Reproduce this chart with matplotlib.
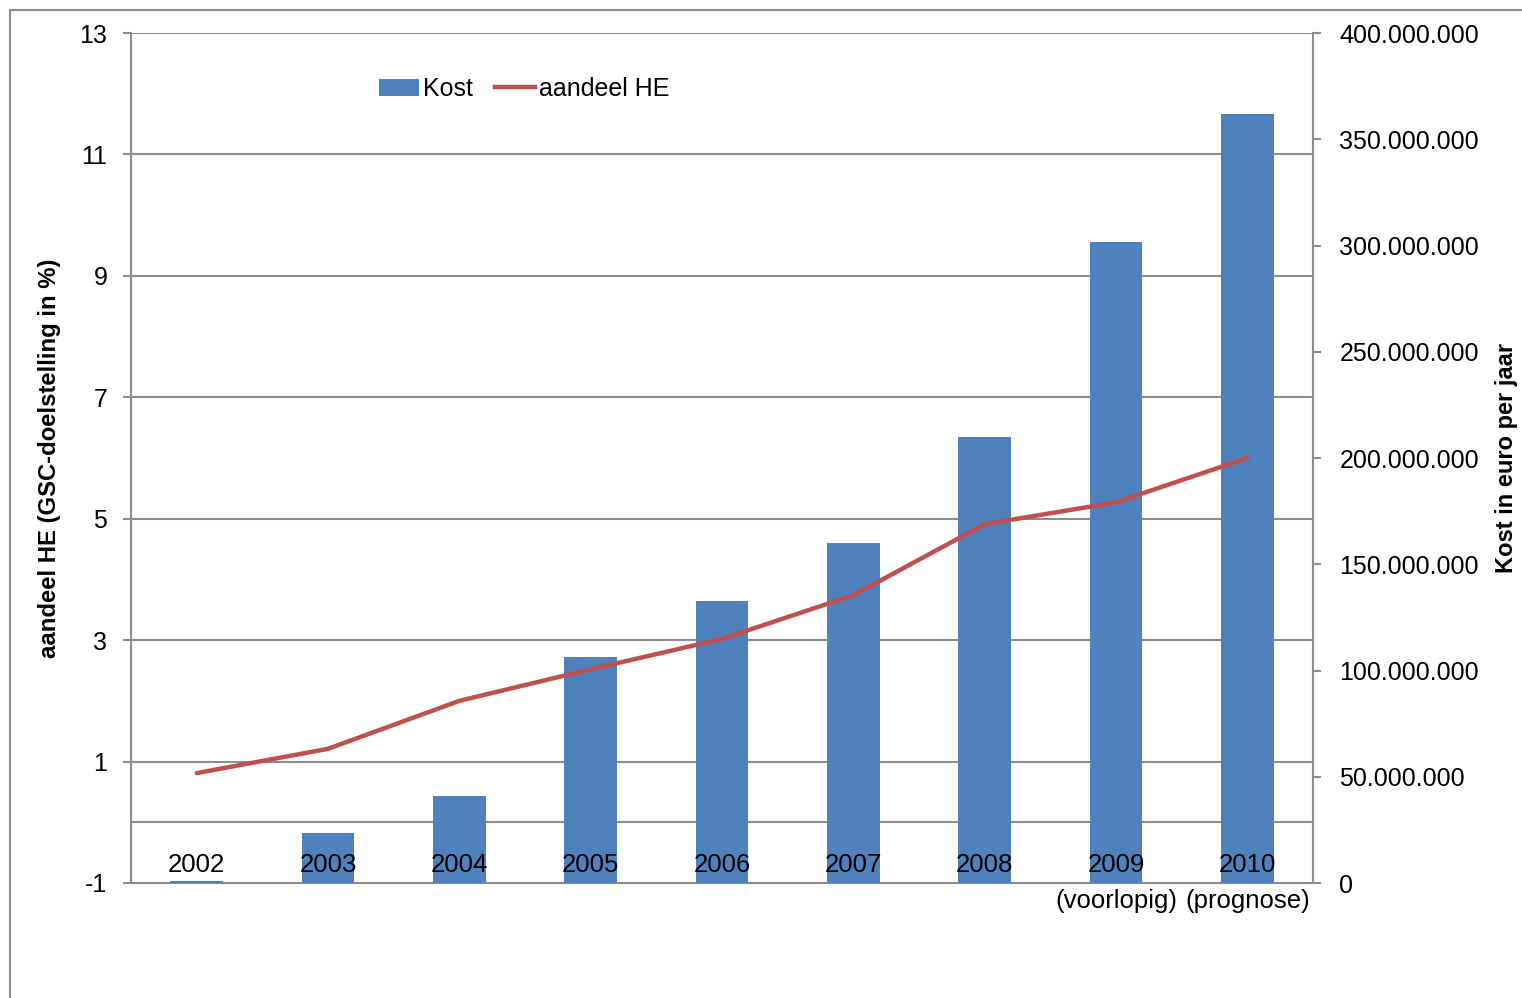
import matplotlib
matplotlib.use("Agg")
import matplotlib.pyplot as plt
from matplotlib.lines import Line2D
from matplotlib.patches import Patch
from matplotlib.ticker import FuncFormatter

plt.rcParams['font.family'] = ['Liberation Sans Narrow', 'Liberation Sans', 'DejaVu Sans']
plt.rcParams['axes.unicode_minus'] = False

years = ["2002", "2003", "2004", "2005", "2006", "2007", "2008", "2009", "2010"]
year_notes = ["", "", "", "", "", "", "", "(voorlopig)", "(prognose)"]
kost = [1_000_000, 23_500_000, 41_000_000, 106_500_000, 132_500_000,
        160_000_000, 210_000_000, 301_500_000, 362_000_000]
aandeel_he = [0.81, 1.21, 2.0, 2.52, 3.02, 3.74, 4.91, 5.27, 6.0]

left_ticks = [-1, 1, 3, 5, 7, 9, 11, 13]
right_ticks = [0, 50e6, 100e6, 150e6, 200e6, 250e6, 300e6, 350e6, 400e6]

BAR_COLOR = "#4F81BD"
LINE_COLOR = "#C0504D"
GRID_COLOR = "#8C8C8C"
FS = 18

fig = plt.figure(figsize=(15.22, 9.98), dpi=100)
ax = fig.add_axes([131 / 1522, 1 - 883 / 998, (1313 - 131) / 1522, 850 / 998])
ax2 = ax.twinx()

x = list(range(len(years)))

# bars on the right (cost) axis
ax2.bar(x, kost, width=0.4, color=BAR_COLOR, zorder=3)
ax2.set_ylim(0, 400e6)
ax2.set_yticks(right_ticks)
ax2.yaxis.set_major_formatter(FuncFormatter(lambda v, p: f"{int(v):,}".replace(",", ".")))

# share line on the left axis, drawn above the bars
ax.set_zorder(ax2.get_zorder() + 1)
ax.patch.set_visible(False)
ax.plot(x, aandeel_he, color=LINE_COLOR, lw=3.2, solid_capstyle='round', zorder=4)
ax.set_ylim(-1, 13)
ax.set_yticks(left_ticks)
ax.set_xlim(-0.5, len(years) - 0.5)
ax.set_xticks([])

# horizontal gridlines (under the bars) on the left scale
for v in left_ticks[1:-1] + [0]:
    ax2.axhline((v + 1) / 14 * 400e6, color=GRID_COLOR, lw=1.5, zorder=1)
ax2.axhline(400e6, color=GRID_COLOR, lw=1.5, zorder=1)

for a in (ax, ax2):
    for s in a.spines.values():
        s.set_visible(False)
    a.tick_params(axis='y', colors=GRID_COLOR, labelcolor='black', labelsize=FS,
                  length=6, width=1.5, pad=11)
    a.tick_params(axis='x', length=0)
ax.spines['left'].set_visible(True)
ax.spines['left'].set_color(GRID_COLOR)
ax.spines['left'].set_linewidth(1.5)
ax2.spines['bottom'].set_visible(True)
ax2.spines['bottom'].set_color(GRID_COLOR)
ax2.spines['bottom'].set_linewidth(1.5)
ax2.spines['bottom'].set_zorder(2)
ax2.spines['right'].set_visible(True)
ax2.spines['right'].set_color(GRID_COLOR)
ax2.spines['right'].set_linewidth(1.5)
ax2.tick_params(axis='y', pad=13)

# category labels sit just inside the plot bottom
for i, (yr, note) in enumerate(zip(years, year_notes)):
    ax.text(i, 0.0212, yr, transform=ax.get_xaxis_transform(), ha='center',
            va='center', fontsize=FS + 0.5, zorder=5)
    if note:
        ax.text(i, -0.0206, note, transform=ax.get_xaxis_transform(), ha='center',
                va='center', fontsize=FS + 0.5, zorder=5)

fig.text(50 / 1522, 1 - 458 / 998, "aandeel HE (GSC-doelstelling in %)", rotation=90,
         ha='center', va='center', fontsize=17.2, fontweight='bold')
fig.text(1507 / 1522, 1 - 458 / 998, "Kost in euro per jaar", rotation=90,
         ha='center', va='center', fontsize=17, fontweight='bold')

handles = [Patch(facecolor=BAR_COLOR, edgecolor='none'),
           Line2D([0], [0], color=LINE_COLOR, lw=3.2)]
ax.legend(handles, ["Kost", "aandeel HE"], loc='center left',
          bbox_to_anchor=(248 / 1182, 1 - 56 / 850), ncol=2, frameon=False,
          fontsize=FS, handlelength=1.6, handletextpad=0.15, columnspacing=0.9,
          borderaxespad=0, borderpad=0)

# chart area border
fig.add_artist(Line2D([10 / 1522, 10 / 1522], [0, 1 - 10 / 998], color=GRID_COLOR,
                      lw=1.5, transform=fig.transFigure))
fig.add_artist(Line2D([10 / 1522, 1], [1 - 10 / 998, 1 - 10 / 998], color=GRID_COLOR,
                      lw=1.5, transform=fig.transFigure))

fig.savefig("out.png", dpi=100)
